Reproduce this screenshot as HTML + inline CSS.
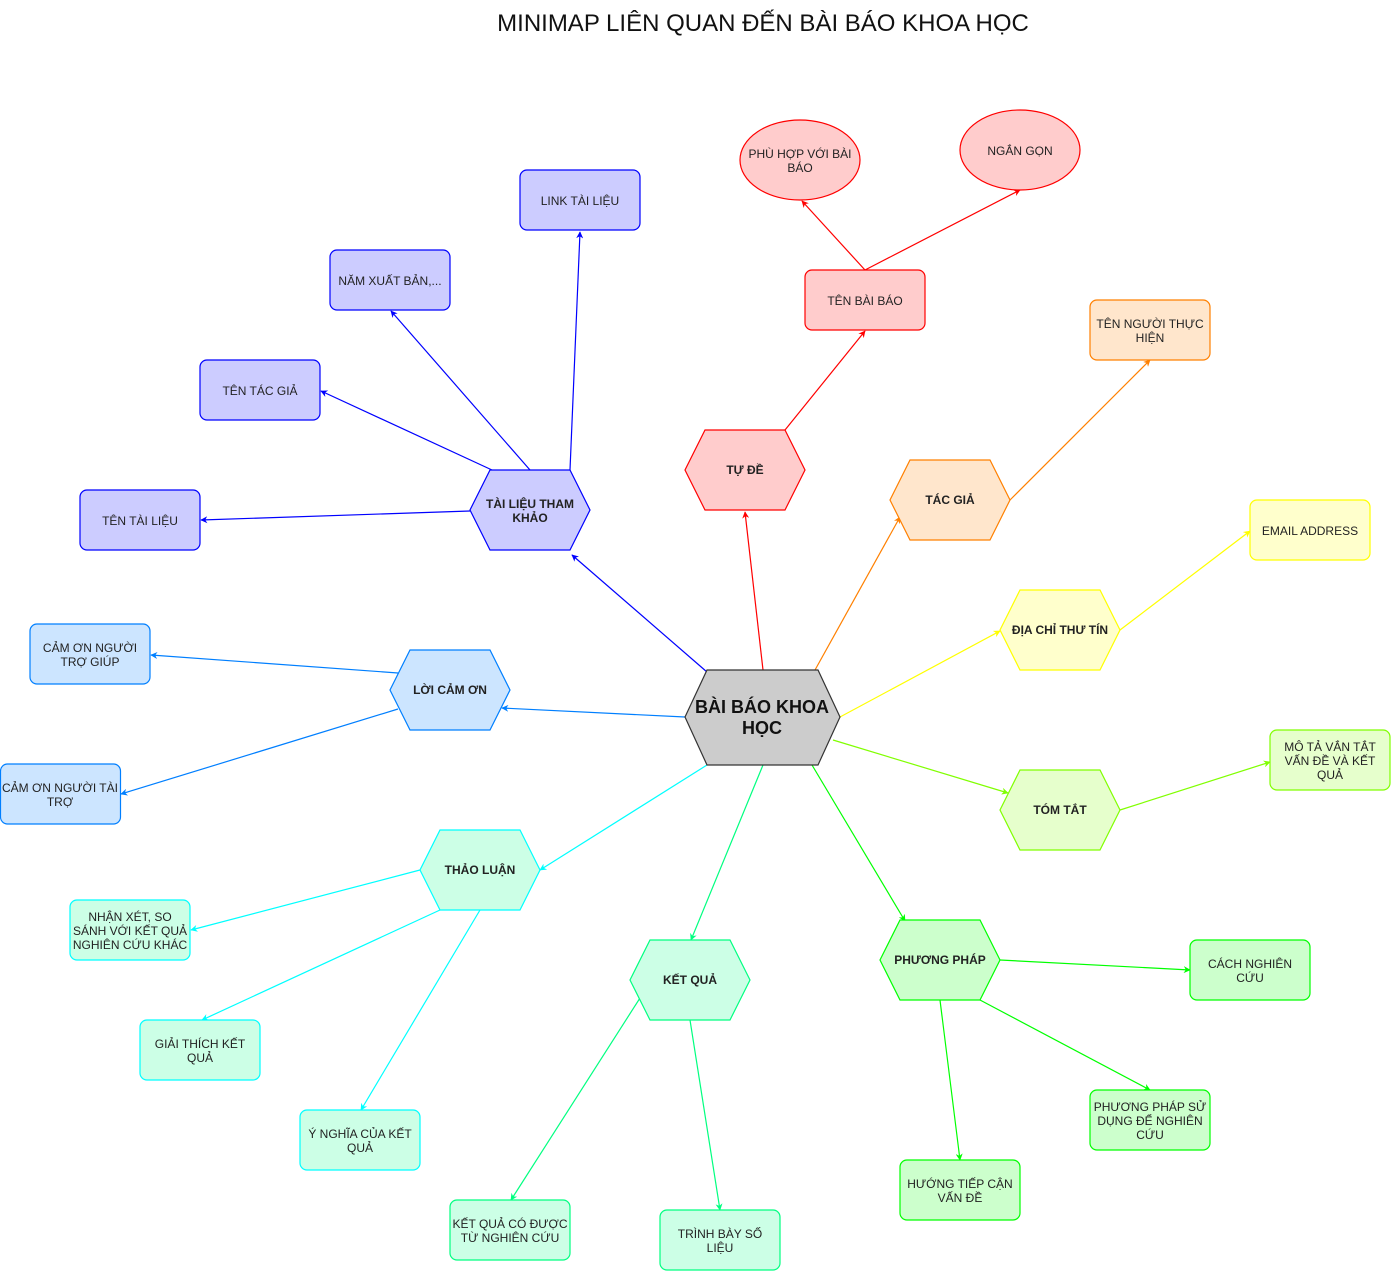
<!DOCTYPE html>
<html><head><meta charset="utf-8"><style>
html,body{margin:0;padding:0;background:#fff;}
svg{display:block;}
text{font-family:"Liberation Sans",Arial,sans-serif;font-size:12px;fill:#222;text-anchor:middle;}
.b{font-weight:bold;}
</style></head><body>
<svg width="1392" height="1271" viewBox="0 0 1392 1271" xmlns="http://www.w3.org/2000/svg">
<defs>
<marker id="m0" viewBox="0 0 10 10" refX="9" refY="5" markerWidth="7" markerHeight="7" orient="auto" markerUnits="userSpaceOnUse"><path d="M0,0 L10,5 L0,10 L3,5 z" fill="#0000ff"/></marker>
<marker id="m1" viewBox="0 0 10 10" refX="9" refY="5" markerWidth="7" markerHeight="7" orient="auto" markerUnits="userSpaceOnUse"><path d="M0,0 L10,5 L0,10 L3,5 z" fill="#ff0000"/></marker>
<marker id="m2" viewBox="0 0 10 10" refX="9" refY="5" markerWidth="7" markerHeight="7" orient="auto" markerUnits="userSpaceOnUse"><path d="M0,0 L10,5 L0,10 L3,5 z" fill="#ff8000"/></marker>
<marker id="m3" viewBox="0 0 10 10" refX="9" refY="5" markerWidth="7" markerHeight="7" orient="auto" markerUnits="userSpaceOnUse"><path d="M0,0 L10,5 L0,10 L3,5 z" fill="#ffff00"/></marker>
<marker id="m4" viewBox="0 0 10 10" refX="9" refY="5" markerWidth="7" markerHeight="7" orient="auto" markerUnits="userSpaceOnUse"><path d="M0,0 L10,5 L0,10 L3,5 z" fill="#80ff00"/></marker>
<marker id="m5" viewBox="0 0 10 10" refX="9" refY="5" markerWidth="7" markerHeight="7" orient="auto" markerUnits="userSpaceOnUse"><path d="M0,0 L10,5 L0,10 L3,5 z" fill="#00ff00"/></marker>
<marker id="m6" viewBox="0 0 10 10" refX="9" refY="5" markerWidth="7" markerHeight="7" orient="auto" markerUnits="userSpaceOnUse"><path d="M0,0 L10,5 L0,10 L3,5 z" fill="#00ff80"/></marker>
<marker id="m7" viewBox="0 0 10 10" refX="9" refY="5" markerWidth="7" markerHeight="7" orient="auto" markerUnits="userSpaceOnUse"><path d="M0,0 L10,5 L0,10 L3,5 z" fill="#00ffff"/></marker>
<marker id="m8" viewBox="0 0 10 10" refX="9" refY="5" markerWidth="7" markerHeight="7" orient="auto" markerUnits="userSpaceOnUse"><path d="M0,0 L10,5 L0,10 L3,5 z" fill="#007fff"/></marker>
</defs>

<text x="763" y="31" style="font-size:24px;fill:#111">MINIMAP LIÊN QUAN ĐẾN BÀI BÁO KHOA HỌC</text>

<g fill="none" stroke-width="1.2">
<line x1="707" y1="672" x2="572" y2="555" stroke="#0000ff" marker-end="url(#m0)"/>
<line x1="570" y1="470" x2="580" y2="232" stroke="#0000ff" marker-end="url(#m0)"/>
<line x1="530" y1="470" x2="391" y2="311" stroke="#0000ff" marker-end="url(#m0)"/>
<line x1="492" y1="470" x2="321" y2="391" stroke="#0000ff" marker-end="url(#m0)"/>
<line x1="470" y1="511" x2="201" y2="520" stroke="#0000ff" marker-end="url(#m0)"/>

<line x1="763" y1="670" x2="745" y2="512" stroke="#ff0000" marker-end="url(#m1)"/>
<line x1="785" y1="430" x2="865" y2="331" stroke="#ff0000" marker-end="url(#m1)"/>
<line x1="865" y1="270" x2="802" y2="201" stroke="#ff0000" marker-end="url(#m1)"/>
<line x1="865" y1="270" x2="1020" y2="190" stroke="#ff0000" marker-end="url(#m1)"/>

<line x1="815" y1="670" x2="900" y2="517" stroke="#ff8000" marker-end="url(#m2)"/>
<line x1="1010" y1="500" x2="1150" y2="360" stroke="#ff8000" marker-end="url(#m2)"/>

<line x1="840" y1="717" x2="1000" y2="631" stroke="#ffff00" marker-end="url(#m3)"/>
<line x1="1120" y1="630" x2="1250" y2="531" stroke="#ffff00" marker-end="url(#m3)"/>

<line x1="833" y1="740" x2="1008" y2="793" stroke="#80ff00" marker-end="url(#m4)"/>
<line x1="1120" y1="810" x2="1270" y2="762" stroke="#80ff00" marker-end="url(#m4)"/>

<line x1="812" y1="765" x2="905" y2="921" stroke="#00ff00" marker-end="url(#m5)"/>
<line x1="1000" y1="960" x2="1190" y2="970" stroke="#00ff00" marker-end="url(#m5)"/>
<line x1="980" y1="1000" x2="1150" y2="1090" stroke="#00ff00" marker-end="url(#m5)"/>
<line x1="940" y1="1000" x2="960" y2="1160" stroke="#00ff00" marker-end="url(#m5)"/>

<line x1="763" y1="765" x2="691" y2="940" stroke="#00ff80" marker-end="url(#m6)"/>
<line x1="640" y1="998" x2="511" y2="1200" stroke="#00ff80" marker-end="url(#m6)"/>
<line x1="690" y1="1020" x2="720" y2="1210" stroke="#00ff80" marker-end="url(#m6)"/>

<line x1="707" y1="765" x2="540" y2="870" stroke="#00ffff" marker-end="url(#m7)"/>
<line x1="420" y1="870" x2="191" y2="930" stroke="#00ffff" marker-end="url(#m7)"/>
<line x1="440" y1="910" x2="202" y2="1020" stroke="#00ffff" marker-end="url(#m7)"/>
<line x1="480" y1="910" x2="361" y2="1110" stroke="#00ffff" marker-end="url(#m7)"/>

<line x1="685" y1="717" x2="502" y2="708" stroke="#007fff" marker-end="url(#m8)"/>
<line x1="398" y1="673" x2="151" y2="655" stroke="#007fff" marker-end="url(#m8)"/>
<line x1="398" y1="709" x2="121" y2="794" stroke="#007fff" marker-end="url(#m8)"/>
</g>

<polygon points="707,670 818,670 840,717 818,765 707,765 685,717" fill="#cccccc" stroke="#333" stroke-width="1.2"/>
<text x="762" y="713" class="b" style="font-size:18px;fill:#111">BÀI BÁO KHOA</text>
<text x="762" y="734" class="b" style="font-size:18px;fill:#111">HỌC</text>

<g stroke-width="1.2">
<polygon points="490,470 570,470 590,510 570,550 490,550 470,510" fill="#ccccff" stroke="#0000ff"/>
<polygon points="410,650 490,650 510,690 490,730 410,730 390,690" fill="#cce5ff" stroke="#007fff"/>
<polygon points="440,830 520,830 540,870 520,910 440,910 420,870" fill="#ccffe6" stroke="#00ffff"/>
<polygon points="650,940 730,940 750,980 730,1020 650,1020 630,980" fill="#ccffe6" stroke="#00ff80"/>
<polygon points="900,920 980,920 1000,960 980,1000 900,1000 880,960" fill="#ccffcc" stroke="#00ff00"/>
<polygon points="1020,770 1100,770 1120,810 1100,850 1020,850 1000,810" fill="#e6ffcc" stroke="#80ff00"/>
<polygon points="1020,590 1100,590 1120,630 1100,670 1020,670 1000,630" fill="#ffffcc" stroke="#ffff00"/>
<polygon points="910,460 990,460 1010,500 990,540 910,540 890,500" fill="#ffe6cc" stroke="#ff8000"/>
<polygon points="705,430 785,430 805,470 785,510 705,510 685,470" fill="#ffcccc" stroke="#ff0000"/>
</g>
<g class="b">
<text x="530" y="508" class="b">TÀI LIỆU THAM</text><text x="530" y="522" class="b">KHẢO</text>
<text x="450" y="694" class="b">LỜI CẢM ƠN</text>
<text x="480" y="874" class="b">THẢO LUẬN</text>
<text x="690" y="984" class="b">KẾT QUẢ</text>
<text x="940" y="964" class="b">PHƯƠNG PHÁP</text>
<text x="1060" y="814" class="b">TÓM TẮT</text>
<text x="1060" y="634" class="b">ĐỊA CHỈ THƯ TÍN</text>
<text x="950" y="504" class="b">TÁC GIẢ</text>
<text x="745" y="474" class="b">TỰ ĐỀ</text>
</g>

<g stroke-width="1.2">
<rect x="520" y="170" width="120" height="60" rx="7" fill="#ccccff" stroke="#0000ff"/>
<rect x="330" y="250" width="120" height="60" rx="7" fill="#ccccff" stroke="#0000ff"/>
<rect x="200" y="360" width="120" height="60" rx="7" fill="#ccccff" stroke="#0000ff"/>
<rect x="80" y="490" width="120" height="60" rx="7" fill="#ccccff" stroke="#0000ff"/>
<rect x="30" y="624" width="120" height="60" rx="7" fill="#cce5ff" stroke="#007fff"/>
<rect x="0.5" y="764" width="120" height="60" rx="7" fill="#cce5ff" stroke="#007fff"/>
<rect x="70" y="900" width="120" height="60" rx="7" fill="#ccffe6" stroke="#00ffff"/>
<rect x="140" y="1020" width="120" height="60" rx="7" fill="#ccffe6" stroke="#00ffff"/>
<rect x="300" y="1110" width="120" height="60" rx="7" fill="#ccffe6" stroke="#00ffff"/>
<rect x="450" y="1200" width="120" height="60" rx="7" fill="#ccffe6" stroke="#00ff80"/>
<rect x="660" y="1210" width="120" height="60" rx="7" fill="#ccffe6" stroke="#00ff80"/>
<rect x="900" y="1160" width="120" height="60" rx="7" fill="#ccffcc" stroke="#00ff00"/>
<rect x="1090" y="1090" width="120" height="60" rx="7" fill="#ccffcc" stroke="#00ff00"/>
<rect x="1190" y="940" width="120" height="60" rx="7" fill="#ccffcc" stroke="#00ff00"/>
<rect x="1270" y="730" width="120" height="60" rx="7" fill="#e6ffcc" stroke="#80ff00"/>
<rect x="1250" y="500" width="120" height="60" rx="7" fill="#ffffcc" stroke="#ffff00"/>
<rect x="1090" y="300" width="120" height="60" rx="7" fill="#ffe6cc" stroke="#ff8000"/>
<rect x="805" y="270" width="120" height="60" rx="7" fill="#ffcccc" stroke="#ff0000"/>
<ellipse cx="800" cy="160" rx="60" ry="40" fill="#ffcccc" stroke="#ff0000"/>
<ellipse cx="1020" cy="150" rx="60" ry="40" fill="#ffcccc" stroke="#ff0000"/>
</g>

<text x="580" y="205">LINK TÀI LIỆU</text>
<text x="390" y="285">NĂM XUẤT BẢN,...</text>
<text x="260" y="395">TÊN TÁC GIẢ</text>
<text x="140" y="525">TÊN TÀI LIỆU</text>
<text x="90" y="652">CẢM ƠN NGƯỜI</text><text x="90" y="666">TRỢ GIÚP</text>
<text x="60" y="792">CẢM ƠN NGƯỜI TÀI</text><text x="60" y="806">TRỢ</text>
<text x="130" y="921">NHẬN XÉT, SO</text><text x="130" y="935">SÁNH VỚI KẾT QUẢ</text><text x="130" y="949">NGHIÊN CỨU KHÁC</text>
<text x="200" y="1048">GIẢI THÍCH KẾT</text><text x="200" y="1062">QUẢ</text>
<text x="360" y="1138">Ý NGHĨA CỦA KẾT</text><text x="360" y="1152">QUẢ</text>
<text x="510" y="1228">KẾT QUẢ CÓ ĐƯỢC</text><text x="510" y="1242">TỪ NGHIÊN CỨU</text>
<text x="720" y="1238">TRÌNH BÀY SỐ</text><text x="720" y="1252">LIỆU</text>
<text x="960" y="1188">HƯỚNG TIẾP CẬN</text><text x="960" y="1202">VẤN ĐỀ</text>
<text x="1150" y="1111">PHƯƠNG PHÁP SỬ</text><text x="1150" y="1125">DỤNG ĐỂ NGHIÊN</text><text x="1150" y="1139">CỨU</text>
<text x="1250" y="968">CÁCH NGHIÊN</text><text x="1250" y="982">CỨU</text>
<text x="1330" y="751">MÔ TẢ VẮN TẮT</text><text x="1330" y="765">VẤN ĐỀ VÀ KẾT</text><text x="1330" y="779">QUẢ</text>
<text x="1310" y="535">EMAIL ADDRESS</text>
<text x="1150" y="328">TÊN NGƯỜI THỰC</text><text x="1150" y="342">HIỆN</text>
<text x="865" y="305">TÊN BÀI BÁO</text>
<text x="800" y="158">PHÙ HỢP VỚI BÀI</text><text x="800" y="172">BÁO</text>
<text x="1020" y="155">NGẮN GỌN</text>
</svg>
</body></html>
